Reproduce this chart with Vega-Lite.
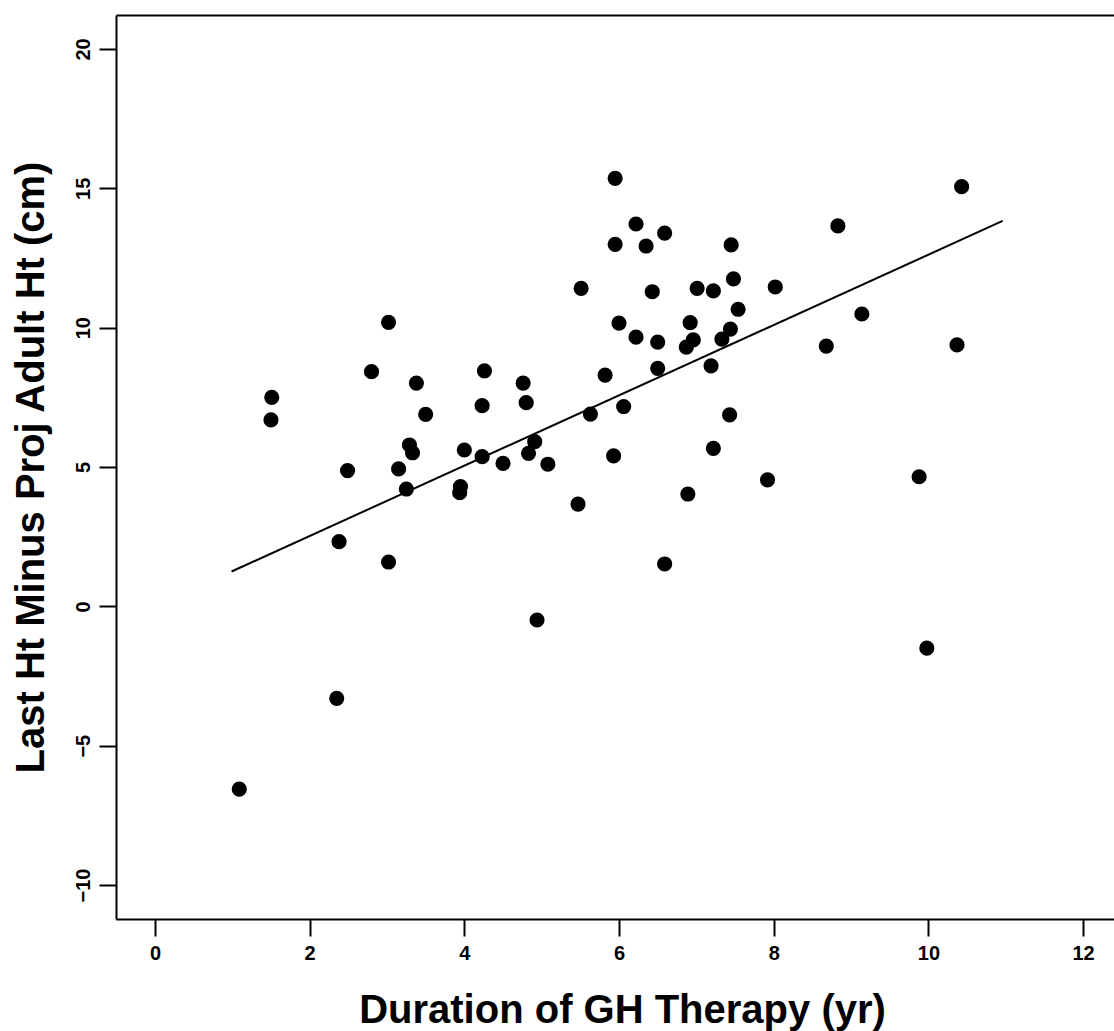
{
  "$schema": "https://vega.github.io/schema/vega-lite/v6.json",
  "width": 998,
  "height": 904,
  "autosize": {"type": "none"},
  "padding": {"left": 116, "top": 15, "right": 0, "bottom": 112},
  "background": "white",
  "config": {
    "view": {"stroke": null},
    "font": "Liberation Sans"
  },
  "datasets": {
    "patients": [
      {"duration": 1.51, "diff": 7.50},
      {"duration": 1.50, "diff": 6.69},
      {"duration": 2.49, "diff": 4.87},
      {"duration": 2.38, "diff": 2.32},
      {"duration": 2.35, "diff": -3.30},
      {"duration": 1.09, "diff": -6.56},
      {"duration": 2.80, "diff": 8.42},
      {"duration": 3.02, "diff": 10.19},
      {"duration": 3.02, "diff": 1.59},
      {"duration": 3.15, "diff": 4.93},
      {"duration": 3.25, "diff": 4.21},
      {"duration": 3.29, "diff": 5.79},
      {"duration": 3.33, "diff": 5.51},
      {"duration": 3.38, "diff": 8.01},
      {"duration": 3.50, "diff": 6.89},
      {"duration": 3.95, "diff": 4.30},
      {"duration": 3.94, "diff": 4.08},
      {"duration": 4.00, "diff": 5.61},
      {"duration": 4.23, "diff": 7.20},
      {"duration": 4.26, "diff": 8.45},
      {"duration": 4.23, "diff": 5.37},
      {"duration": 4.50, "diff": 5.13},
      {"duration": 4.76, "diff": 8.01},
      {"duration": 4.80, "diff": 7.31},
      {"duration": 4.83, "diff": 5.49},
      {"duration": 4.91, "diff": 5.91},
      {"duration": 4.94, "diff": -0.49},
      {"duration": 5.08, "diff": 5.10},
      {"duration": 5.51, "diff": 11.41},
      {"duration": 5.47, "diff": 3.67},
      {"duration": 5.63, "diff": 6.90},
      {"duration": 5.82, "diff": 8.30},
      {"duration": 5.93, "diff": 5.40},
      {"duration": 6.06, "diff": 7.17},
      {"duration": 5.95, "diff": 15.36},
      {"duration": 5.95, "diff": 12.99},
      {"duration": 6.00, "diff": 10.16},
      {"duration": 6.22, "diff": 13.72},
      {"duration": 6.22, "diff": 9.66},
      {"duration": 6.35, "diff": 12.93},
      {"duration": 6.43, "diff": 11.29},
      {"duration": 6.50, "diff": 9.48},
      {"duration": 6.50, "diff": 8.54},
      {"duration": 6.59, "diff": 1.52},
      {"duration": 6.59, "diff": 13.39},
      {"duration": 6.87, "diff": 9.30},
      {"duration": 6.96, "diff": 9.56},
      {"duration": 6.89, "diff": 4.03},
      {"duration": 6.92, "diff": 10.18},
      {"duration": 7.01, "diff": 11.41},
      {"duration": 7.22, "diff": 11.32},
      {"duration": 7.19, "diff": 8.63},
      {"duration": 7.22, "diff": 5.67},
      {"duration": 7.33, "diff": 9.59},
      {"duration": 7.44, "diff": 9.95},
      {"duration": 7.43, "diff": 6.87},
      {"duration": 7.45, "diff": 12.97},
      {"duration": 7.48, "diff": 11.75},
      {"duration": 7.54, "diff": 10.66},
      {"duration": 7.92, "diff": 4.54},
      {"duration": 8.02, "diff": 11.46},
      {"duration": 8.68, "diff": 9.34},
      {"duration": 8.83, "diff": 13.65},
      {"duration": 9.14, "diff": 10.49},
      {"duration": 9.88, "diff": 4.65},
      {"duration": 9.98, "diff": -1.50},
      {"duration": 10.37, "diff": 9.38},
      {"duration": 10.43, "diff": 15.06}
    ],
    "fit": [
      {"duration": 0.99, "diff": 1.25},
      {"duration": 10.96, "diff": 13.83}
    ]
  },
  "layer": [
    {
      "data": {"name": "patients"},
      "mark": {"type": "point", "shape": "circle", "filled": true, "size": 230, "color": "black", "opacity": 1},
      "encoding": {
        "x": {
          "field": "duration",
          "type": "quantitative",
          "scale": {"domain": [-0.504, 12.4], "nice": false, "zero": false},
          "axis": {
            "orient": "bottom",
            "values": [0, 2, 4, 6, 8, 10, 12],
            "format": "d",
            "grid": false,
            "domainColor": "black",
            "domainWidth": 2,
            "tickColor": "black",
            "tickWidth": 2,
            "tickSize": 17,
            "labelFont": "Liberation Sans",
            "labelFontSize": 20,
            "labelFontWeight": "bold",
            "labelColor": "black",
            "labelPadding": 7,
            "labelBaseline": "top",
            "labelFlush": false,
            "labelOverlap": false,
            "title": "Duration of GH Therapy (yr)",
            "titleFont": "Liberation Sans",
            "titleFontSize": 40,
            "titleFontWeight": "bold",
            "titleColor": "black",
            "titleX": 506,
            "titleY": 103,
            "titleAlign": "center",
            "titleBaseline": "alphabetic"
          }
        },
        "y": {
          "field": "diff",
          "type": "quantitative",
          "scale": {"domain": [-11.22, 21.22], "nice": false, "zero": false},
          "axis": {
            "orient": "left",
            "values": [-10, -5, 0, 5, 10, 15, 20],
            "format": "d",
            "grid": false,
            "domainColor": "black",
            "domainWidth": 2,
            "tickColor": "black",
            "tickWidth": 2,
            "tickSize": 17,
            "labelFont": "Liberation Sans",
            "labelFontSize": 20,
            "labelFontWeight": "bold",
            "labelColor": "black",
            "labelAngle": -90,
            "labelAlign": "center",
            "labelBaseline": "alphabetic",
            "labelPadding": 10,
            "labelOverlap": false,
            "title": "Last Ht Minus Proj Adult Ht (cm)",
            "titleFont": "Liberation Sans",
            "titleFontSize": 40,
            "titleFontWeight": "bold",
            "titleColor": "black",
            "titleAngle": -90,
            "titleX": -73,
            "titleY": 452,
            "titleAlign": "center",
            "titleBaseline": "alphabetic"
          }
        }
      }
    },
    {
      "data": {"name": "fit"},
      "mark": {"type": "line", "color": "black", "strokeWidth": 2},
      "encoding": {
        "x": {
          "field": "duration",
          "type": "quantitative",
          "scale": {"domain": [-0.504, 12.4], "nice": false, "zero": false},
          "axis": {
            "orient": "top",
            "labels": false,
            "ticks": false,
            "grid": false,
            "title": null,
            "domainColor": "black",
            "domainWidth": 2
          }
        },
        "y": {
          "field": "diff",
          "type": "quantitative",
          "scale": {"domain": [-11.22, 21.22], "nice": false, "zero": false},
          "axis": {
            "orient": "left",
            "values": [-10, -5, 0, 5, 10, 15, 20],
            "format": "d",
            "grid": false,
            "domainColor": "black",
            "domainWidth": 2,
            "tickColor": "black",
            "tickWidth": 2,
            "tickSize": 17,
            "labelFont": "Liberation Sans",
            "labelFontSize": 20,
            "labelFontWeight": "bold",
            "labelColor": "black",
            "labelAngle": -90,
            "labelAlign": "center",
            "labelBaseline": "alphabetic",
            "labelPadding": 10,
            "labelOverlap": false,
            "title": "Last Ht Minus Proj Adult Ht (cm)",
            "titleFont": "Liberation Sans",
            "titleFontSize": 40,
            "titleFontWeight": "bold",
            "titleColor": "black",
            "titleAngle": -90,
            "titleX": -73,
            "titleY": 452,
            "titleAlign": "center",
            "titleBaseline": "alphabetic"
          }
        }
      }
    }
  ],
  "resolve": {"axis": {"x": "independent", "y": "shared"}}
}
